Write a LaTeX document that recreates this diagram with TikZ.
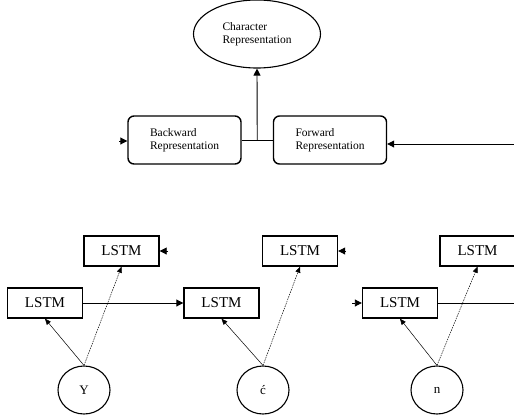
\documentclass[tikz,border=0pt]{standalone}
\usepackage{fontspec}
\setmainfont{Liberation Serif}
\usetikzlibrary{arrows.meta,shapes.geometric}
\begin{document}
\begin{tikzpicture}[x=1pt,y=-1pt,
	rep/.style={draw,line width=1.4pt,rounded corners=6pt,minimum width=113pt,minimum height=48pt,align=left,font=\fontsize{11.5}{13}\selectfont},
	lstm/.style={draw,line width=1.4pt,minimum width=75pt,minimum height=30pt,inner sep=0pt,font=\fontsize{15}{17}\selectfont},
	chr/.style={draw,ellipse,line width=1.1pt,minimum width=52pt,minimum height=48pt,inner sep=0pt,font=\fontsize{13}{15}\selectfont},
	arr/.style={-{Triangle[length=7pt,width=7pt]},line width=0.9pt},
	thinarr/.style={-{Triangle[length=6pt,width=5pt]},line width=0.5pt},
	dotarr/.style={thinarr,dash pattern=on 1.5pt off 1pt}]
	\useasboundingbox (0,0) rectangle (514,416);
	\node[draw,ellipse,line width=1.1pt,minimum width=127pt,minimum height=68pt,inner sep=0pt,align=left,font=\fontsize{11.5}{13}\selectfont] (charrep) at (257,34) {Character\\Representation};
	\node[rep] (bwd) at (184.5,140) {Backward\\Representation};
	\node[rep] (fwd) at (330,140) {Forward\\Representation};
	\coordinate (bwdin) at (119,141);
	\coordinate (fwdin) at (514,144);
	\draw[line width=0.9pt] (bwd.east) -- (fwd.west) coordinate[midway] (junc);
	\draw[arr] (junc) -- (charrep.south);
	\draw[arr] (fwdin) -- (fwd.east |- fwdin);
	\draw[arr] (bwdin) -- (bwd.west |- bwdin);
	% backward LSTMs
	\node[lstm] (up1) at (121.5,251) {LSTM};
	\node[lstm] (up2) at (300,251) {LSTM};
	\node[lstm] (up3) at (477.5,251) {LSTM};
	% forward LSTMs
	\node[lstm] (lo1) at (45,303) {LSTM};
	\node[lstm] (lo2) at (221.5,303) {LSTM};
	\node[lstm] (lo3) at (400,303) {LSTM};
	\node[chr] (cy) at (84,390) {Y};
	\node[chr] (cc) at (263,390) {\'c};
	\node[chr] (cn) at (437,390) {n};
	\coordinate (up1in) at (168,251);
	\coordinate (up2in) at (346,251);
	\coordinate (lo3in) at (352,303);
	\coordinate (lo3out) at (514,303);
	\draw[arr] (up1in) -- (up1.east);
	\draw[arr] (up2in) -- (up2.east);
	\draw[arr] (lo3in) -- (lo3.west);
	\draw[arr] (lo1.east) -- (lo2.west);
	\draw[line width=0.9pt] (lo3.east) -- (lo3out);
	\draw[thinarr] (cy.north) -- (lo1.south);
	\draw[dotarr] (cy.north) -- (up1.south);
	\draw[thinarr] (cc.north) -- (lo2.south);
	\draw[dotarr] (cc.north) -- (up2.south);
	\draw[thinarr] (cn.north) -- (lo3.south);
	\draw[dotarr] (cn.north) -- (up3.south);
\end{tikzpicture}
\end{document}
